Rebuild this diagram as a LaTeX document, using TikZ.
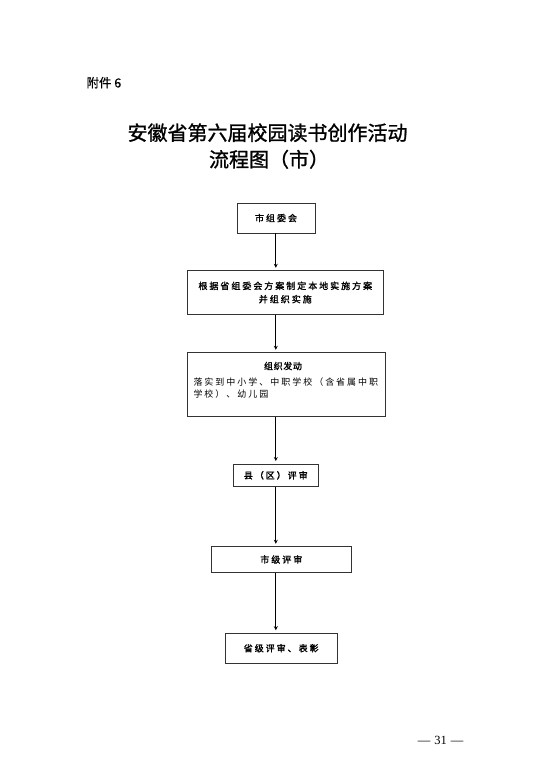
\documentclass[tikz,border=0pt]{standalone}
\usepackage{fontspec}
\usetikzlibrary{arrows.meta}
\newfontfamily\cjk[FakeBold=0.4]{Noto Sans CJK SC}
\newfontfamily\cjkb[FakeBold=1.2]{Noto Sans CJK SC}
\newfontfamily\cjkbt[FakeBold=1.6,LetterSpace=7]{Noto Sans CJK SC}
\newfontfamily\cjkbs[FakeBold=1.6,LetterSpace=22]{Noto Sans CJK SC}
\newfontfamily\cjks[LetterSpace=22]{Noto Sans CJK SC}
\setmainfont{Liberation Serif}
\tikzset{
  box/.style={draw=black!80, line width=0.8pt, inner sep=0pt, anchor=center, font=\cjkbs\fontsize{9}{13.3}\selectfont, align=center},
  arr/.style={draw=black, line width=1.1pt, -{Stealth[length=4pt,width=4pt]}, shorten >=2.5pt},
}
\begin{document}
\begin{tikzpicture}[x=1pt,y=-1pt]
\useasboundingbox (0,0) rectangle (550,778);
\node[font=\cjk\fontsize{12.5}{12.5}\selectfont, anchor=west] (att) at (83,82.7) {附件 6};
\node[font=\cjkb\fontsize{20}{20}\selectfont] (t1) at (267.5,132.7) {安徽省第六届校园读书创作活动};
\node[font=\cjkb\fontsize{20}{20}\selectfont, anchor=west] (t2) at (205.5,159.3) {流程图（市）};

\node[box, minimum width=78pt, minimum height=30pt] (b1) at (276,218) {市组委会};
\node[box, minimum width=196pt, minimum height=43.6pt] (b2) at (285.3,292.5) {根据省组委会方案制定本地实施方案\\并组织实施};
\node[box, minimum width=197.7pt, minimum height=64pt] (b3) at (286.2,384.7) {};
\node[font=\cjkbt\fontsize{9}{10}\selectfont] (b3t) at (283,366) {组织发动};
\node[font=\cjks\fontsize{9}{12.8}\selectfont, anchor=north west, align=left, inner sep=0pt] (b3b) at (193.3,377.2) {落实到中小学、中职学校（含省属中职\\学校）、幼儿园};
\node[box, minimum width=85pt, minimum height=22.7pt] (b4) at (275.8,475.3) {县（区）评审};
\node[box, minimum width=139.3pt, minimum height=25.6pt] (b5) at (281.3,559.5) {市级评审};
\node[box, minimum width=112.3pt, minimum height=30.3pt] (b6) at (281.2,648.2) {省级评审、表彰};

\coordinate (ax) at (275.8,0);
\draw[arr] (b1.south -| ax) -- (b2.north -| ax);
\draw[arr] (b2.south -| ax) -- (b3.north -| ax);
\draw[arr] (b3.south -| ax) -- (b4.north -| ax);
\draw[arr] (b4.south -| ax) -- (b5.north -| ax);
\draw[arr] (b5.south -| ax) -- (b6.north -| ax);

\node[font=\fontsize{12.5}{12.5}\selectfont] (pg) at (440.5,740) {—\hspace{4pt}31\hspace{4pt}—};
\end{tikzpicture}
\end{document}
